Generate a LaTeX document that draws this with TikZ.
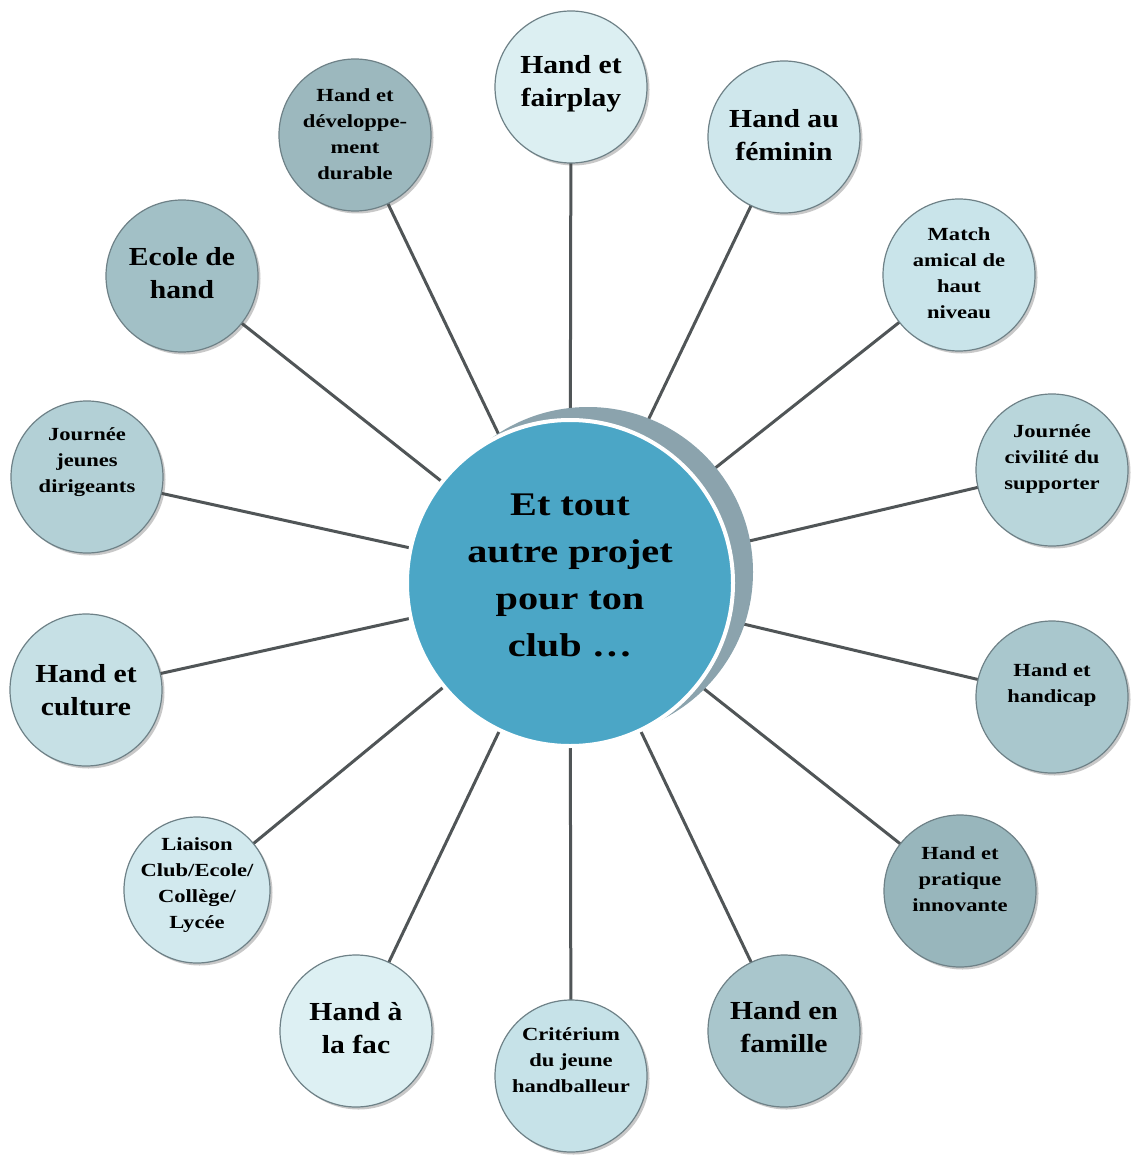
\documentclass[tikz,border=0pt]{standalone}
\usepackage{fontspec}
\setmainfont{Liberation Serif}
\newfontfamily\bigsatfont[FakeStretch=1.14]{Liberation Serif}
\newfontfamily\smallsatfont[FakeStretch=1.22]{Liberation Serif}
\newfontfamily\centrefont[FakeStretch=1.22]{Liberation Serif}
\usetikzlibrary{shadows,backgrounds}
\definecolor{linegray}{HTML}{505557}
\definecolor{satline}{HTML}{6E8187}
\definecolor{maincol}{HTML}{4BA6C6}
\definecolor{shadowcol}{HTML}{8BA3AD}
\definecolor{cA}{HTML}{DCEFF2}
\definecolor{cB}{HTML}{CFE7EC}
\definecolor{cC}{HTML}{C9E4EA}
\definecolor{cD}{HTML}{B9D6DB}
\definecolor{cE}{HTML}{A9C7CD}
\definecolor{cF}{HTML}{98B6BC}
\definecolor{cG}{HTML}{A9C6CC}
\definecolor{cH}{HTML}{C6E2E8}
\definecolor{cI}{HTML}{DDF0F3}
\definecolor{cJ}{HTML}{D2E9EE}
\definecolor{cK}{HTML}{C6E0E5}
\definecolor{cL}{HTML}{B3D0D6}
\definecolor{cM}{HTML}{A2C0C6}
\definecolor{cN}{HTML}{9CB8BE}
\begin{document}
\begin{tikzpicture}[x=1pt,y=-1pt,
  sat/.style={circle, draw=satline, line width=1.2, inner sep=0, minimum size=152,
    drop shadow={shadow xshift=2.5, shadow yshift=2.5, opacity=0.3, fill=black!70}},
  bigt/.style={align=center, text=black, font=\bigsatfont\bfseries\fontsize{26}{33}\selectfont},
  smallt/.style={align=center, text=black, font=\smallsatfont\bfseries\fontsize{18.5}{26}\selectfont},
  maint/.style={align=center, text=black, font=\centrefont\bfseries\fontsize{33}{47}\selectfont},
  conn/.style={draw=linegray, line width=3}]
\useasboundingbox (0,0) rectangle (1130,1158);

% shadow behind the centre circle
\fill[shadowcol] (588,572) circle (165);
\node[circle, fill=maincol, draw=white, line width=4, minimum size=326, inner sep=0,
  label={[maint, yshift=8]center:{Et tout\\autre projet\\pour ton\\club \dots}}]
  (c) at (570,583) {};

\node[sat, fill=cA, label={[bigt, yshift=3]center:{Hand et\\fairplay}}] (s1) at (571,87) {};
\node[sat, fill=cB, label={[bigt, yshift=2]center:{Hand au\\féminin}}] (s2) at (784,137) {};
\node[sat, fill=cC, label={[smallt, yshift=2]center:{Match\\amical de\\haut\\niveau}}] (s3) at (959,275) {};
\node[sat, fill=cD, label={[smallt, yshift=11]center:{Journée\\civilité du\\supporter}}] (s4) at (1052,470) {};
\node[sat, fill=cE, label={[smallt, yshift=12]center:{Hand et\\handicap}}] (s5) at (1052,697) {};
\node[sat, fill=cF, label={[smallt, yshift=12]center:{Hand et\\pratique\\innovante}}] (s6) at (960,891) {};
\node[sat, fill=cG, label={[bigt, yshift=4]center:{Hand en\\famille}}] (s7) at (784,1031) {};
\node[sat, fill=cH, label={[smallt, yshift=16]center:{Critérium\\du jeune\\handballeur}}] (s8) at (571,1076) {};
\node[sat, fill=cI, label={[bigt, yshift=3]center:{Hand à\\la fac}}] (s9) at (356,1031) {};
\node[sat, fill=cJ, minimum size=146, label={[smallt, yshift=5]center:{Liaison\\Club/Ecole/\\Collège/\\Lycée}}] (s10) at (197,890) {};
\node[sat, fill=cK, label={[bigt, yshift=0]center:{Hand et\\culture}}] (s11) at (86,690) {};
\node[sat, fill=cL, label={[smallt, yshift=15]center:{Journée\\jeunes\\dirigeants}}] (s12) at (87,477) {};
\node[sat, fill=cM, label={[bigt, yshift=3]center:{Ecole de\\hand}}] (s13) at (182,276) {};
\node[sat, fill=cN, label={[smallt, yshift=1]center:{Hand et\\développe-\\ment\\durable}}] (s14) at (355,135) {};

\begin{pgfonlayer}{background}
\fill[white] (0,0) rectangle (1130,1158);
\foreach \s in {s1,s2,s3,s4,s5,s6,s7,s8,s9,s10,s11,s12,s13,s14}
  \draw[conn] (c.center) -- (\s.center);
\end{pgfonlayer}
\end{tikzpicture}
\end{document}
